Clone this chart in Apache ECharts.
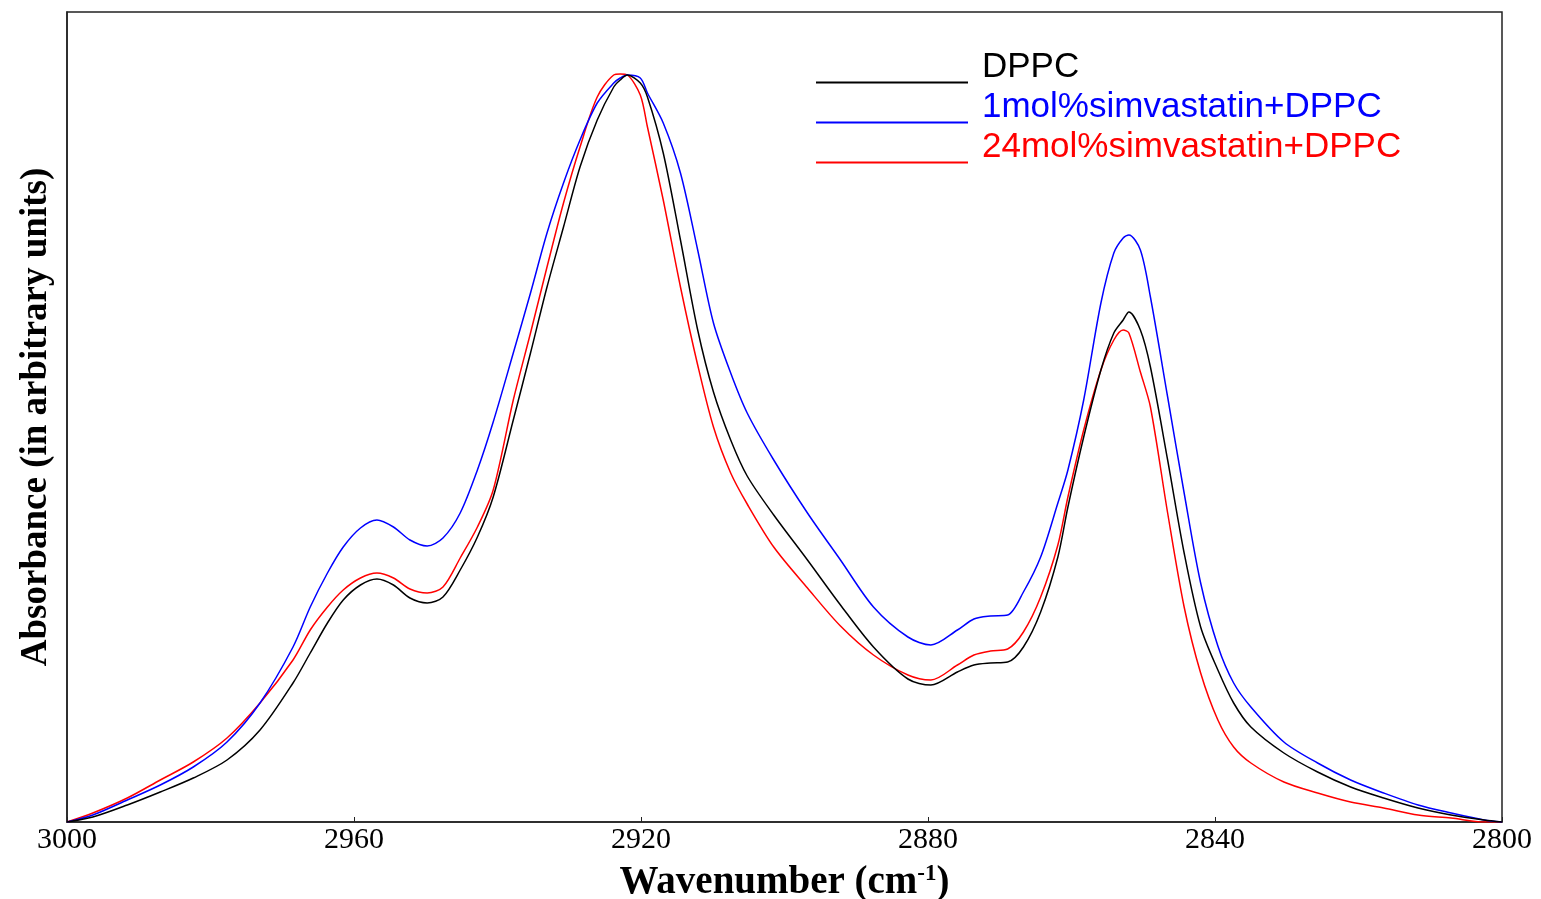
<!DOCTYPE html>
<html>
<head>
<meta charset="utf-8">
<script src="https://cdn.jsdelivr.net/npm/echarts@6/dist/echarts.min.js"></script>
<style>
html,body{margin:0;padding:0;background:#fff;}
#chart{width:1541px;height:899px;}
</style>
</head>
<body>
<div id="chart"></div>
<script>
// Wavenumber (cm-1) sample positions
const wavenumbers = [3000, 2996.4, 2991.6, 2987.0, 2982.4, 2977.7, 2973.1, 2968.5, 2966.1, 2963.7, 2961.5, 2959.1, 2956.8, 2954.5, 2952.2, 2949.8, 2947.6, 2945.2, 2942.8, 2940.6, 2937.8, 2935.4, 2933.1, 2930.8, 2928.5, 2926.1, 2923.8, 2922.9, 2921.9, 2920.1, 2919.1, 2916.9, 2914.5, 2912.1, 2909.9, 2907.5, 2905.2, 2901.5, 2896.8, 2892.2, 2887.6, 2882.8, 2879.6, 2875.9, 2873.6, 2871.3, 2868.9, 2866.7, 2864.3, 2861.9, 2860.5, 2858.3, 2855.9, 2854.1, 2852.8, 2852.0, 2850.4, 2849.0, 2846.6, 2844.3, 2842.0, 2839.6, 2837.4, 2835.0, 2830.4, 2825.7, 2821.1, 2816.5, 2811.7, 2807.1, 2802.5, 2800];

// Absorbance (arbitrary units)
const dppc = [0, .005, .017, .030, .044, .062, .092, .139, .169, .199, .222, .237, .243, .237, .224, .219, .225, .252, .285, .325, .402, .469, .535, .595, .655, .702, .735, .742, .747, .739, .725, .669, .582, .492, .430, .382, .346, .307, .262, .217, .175, .143, .137, .150, .157, .159, .160, .175, .210, .265, .315, .385, .452, .489, .502, .510, .492, .455, .362, .269, .195, .152, .119, .095, .069, .050, .035, .024, .014, .007, .002, 0];

const simva1 = [0, .007, .022, .037, .055, .080, .119, .175, .215, .249, .275, .294, .302, .295, .282, .276, .284, .309, .352, .400, .469, .529, .589, .639, .682, .719, .739, .744, .747, .744, .729, .699, .649, .572, .499, .449, .409, .362, .309, .262, .215, .185, .177, .192, .203, .206, .207, .230, .265, .319, .352, .422, .519, .569, .584, .587, .572, .525, .425, .329, .239, .176, .139, .115, .080, .059, .042, .029, .017, .009, .002, 0];

const simva24 = [0, .009, .024, .042, .060, .084, .119, .162, .192, .215, .232, .244, .249, .244, .233, .229, .235, .264, .295, .332, .422, .489, .555, .619, .675, .725, .747, .748, .747, .727, .695, .622, .535, .457, .395, .349, .318, .275, .234, .196, .167, .147, .142, .157, .167, .171, .173, .190, .225, .277, .325, .392, .452, .482, .492, .489, .450, .415, .309, .215, .149, .102, .075, .059, .040, .029, .020, .014, .007, .004, 0, 0];

const seriesNames = ['DPPC', '1mol%simvastatin+DPPC', '24mol%simvastatin+DPPC'];
const seriesColors = ['#000000', '#0000ff', '#ff0000'];
const seriesValues = [dppc, simva1, simva24];

const chart = echarts.init(document.getElementById('chart'), null, {renderer: 'canvas'});

const series = seriesNames.map((name, i) => ({
  name: name,
  type: 'line',
  data: wavenumbers.map((w, j) => [w, seriesValues[i][j]]),
  showSymbol: false,
  symbol: 'none',
  smooth: 0.3,
  lineStyle: {color: seriesColors[i], width: 1.5},
  itemStyle: {color: seriesColors[i]},
  emphasis: {disabled: true},
  z: 3 - i
}));

chart.setOption({
  animation: false,
  backgroundColor: '#ffffff',
  grid: {
    left: 67, right: 39, top: 12, bottom: 77,
    outerBoundsMode: 'none',
    containLabel: false,
    show: true, borderColor: '#222', borderWidth: 1.5, backgroundColor: 'transparent'
  },
  legend: {
    orient: 'vertical',
    left: 816,
    top: 50,
    padding: 0,
    itemWidth: 161,
    itemHeight: 32,
    itemGap: 5,
    icon: 'path://M0,0 M161,0 M0,30 L152,30 L152,32 L0,32 Z',
    itemStyle: {borderWidth: 0},
    textStyle: {fontFamily: 'Liberation Sans', fontSize: 35},
    selectedMode: false,
    data: seriesNames.map((n, i) => ({name: n, textStyle: {color: seriesColors[i]}}))
  },
  xAxis: {
    type: 'value',
    inverse: true,
    min: 2800,
    max: 3000,
    interval: 40,
    name: 'Wavenumber (cm{sup|-1})',
    nameLocation: 'middle',
    nameGap: 41,
    nameTextStyle: {
      fontFamily: 'Liberation Serif', fontSize: 39, fontWeight: 'bold', color: '#000',
      rich: {sup: {fontFamily: 'Liberation Serif', fontSize: 23, fontWeight: 'bold', verticalAlign: 'top', padding: [0, 0, 14, 0], color: '#000'}}
    },
    axisLine: {show: true, lineStyle: {color: '#222', width: 1.5}},
    axisTick: {show: true, inside: true, length: 5, lineStyle: {color: '#222'}},
    axisLabel: {fontFamily: 'Liberation Serif', fontSize: 30, color: '#000', margin: 3,
      formatter: function (v) { return String(v); }},
    splitLine: {show: false}
  },
  yAxis: {
    type: 'value',
    min: 0,
    max: 0.81,
    name: 'Absorbance (in arbitrary units)',
    nameLocation: 'middle',
    nameGap: 12,
    nameTextStyle: {fontFamily: 'Liberation Serif', fontSize: 37, fontWeight: 'bold', color: '#000'},
    axisLine: {show: true, lineStyle: {color: '#222', width: 1.5}},
    axisTick: {show: false},
    axisLabel: {show: false},
    splitLine: {show: false}
  },
  series: series
});
</script>
</body>
</html>
